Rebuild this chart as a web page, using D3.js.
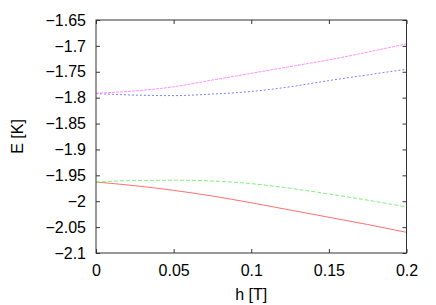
<!DOCTYPE html>
<html>
<head>
<meta charset="utf-8">
<script src="https://cdn.jsdelivr.net/npm/d3@7"></script>
<style>
  body { margin: 0; background: #fff; }
  svg text { font-family: "Liberation Sans", Arial, sans-serif; fill: #000; }
</style>
</head>
<body>
<svg id="chart" width="436" height="305"></svg>
<script>
//
// Data
//

var h = [0, 0.025, 0.05, 0.075, 0.1, 0.125, 0.15, 0.175, 0.2]
var eRed = [-1.963, -1.970, -1.979, -1.990, -2.003, -2.017, -2.031, -2.045, -2.060]
var eGreen = [-1.963, -1.960, -1.9595, -1.961, -1.966, -1.975, -1.986, -1.998, -2.011]
var eBlue = [-1.792, -1.795, -1.796, -1.793, -1.788, -1.779, -1.767, -1.756, -1.745]
var eMagenta = [-1.7915, -1.787, -1.779, -1.766, -1.753, -1.740, -1.727, -1.712, -1.696]

var xTicks = [0, 0.05, 0.1, 0.15, 0.2]
var yTicks = [-1.65, -1.7, -1.75, -1.8, -1.85, -1.9, -1.95, -2, -2.05, -2.1]

//
// Layout
//

var plotLeft = 96, plotRight = 406.5, plotTop = 20, plotBottom = 253
var tickLen = 4

var svg = d3.select('#chart')

var x = d3.scaleLinear().domain([0, 0.2]).range([plotLeft, plotRight])
var y = d3.scaleLinear().domain([-2.1, -1.65]).range([plotBottom, plotTop])

// ticks on all four sides, pointing inward
var axisB = d3.axisBottom(x).tickValues(xTicks).tickSizeInner(-tickLen).tickSizeOuter(0).tickPadding(12).tickFormat(d3.format('~g'))
var axisT = d3.axisTop(x).tickValues(xTicks).tickSizeInner(-tickLen).tickSizeOuter(0).tickFormat('')
var axisL = d3.axisLeft(y).tickValues(yTicks).tickSizeInner(-tickLen).tickSizeOuter(0).tickPadding(10).tickFormat(d3.format('~g'))
var axisR = d3.axisRight(y).tickValues(yTicks).tickSizeInner(-tickLen).tickSizeOuter(0).tickFormat('')

function styleAxis(g) {
  g.select('.domain').remove()
  g.selectAll('.tick line').attr('stroke', '#333')
  g.selectAll('.tick text').attr('font-size', 16).attr('font-family', '"Liberation Sans", Arial, sans-serif')
}

svg.append('g').attr('transform', 'translate(0,' + plotBottom + ')').call(axisB).call(styleAxis)
svg.append('g').attr('transform', 'translate(0,' + plotTop + ')').call(axisT).call(styleAxis)
svg.append('g').attr('transform', 'translate(' + plotLeft + ',0)').call(axisL).call(styleAxis)
svg.append('g').attr('transform', 'translate(' + plotRight + ',0)').call(axisR).call(styleAxis)

//
// Curves
//

var series = [
  { values: eRed, color: '#ff7070', dash: null },
  { values: eGreen, color: '#80f080', dash: '4,2' },
  { values: eBlue, color: '#8080ff', dash: '2,2' },
  { values: eMagenta, color: '#ff90ff', dash: '3,1' }
]

var line = d3.line()
  .x(function(d) { return x(d[0]) })
  .y(function(d) { return y(d[1]) })
  .curve(d3.curveMonotoneX)

series.forEach(function(s) {
  svg.append('path')
    .datum(h.map(function(v, i) { return [v, s.values[i]] }))
    .attr('fill', 'none')
    .attr('stroke', s.color)
    .attr('stroke-width', 1)
    .attr('stroke-dasharray', s.dash)
    .attr('d', line)
})

// frame
svg.append('rect')
  .attr('x', plotLeft).attr('y', plotTop)
  .attr('width', plotRight - plotLeft).attr('height', plotBottom - plotTop)
  .attr('fill', 'none')
  .attr('stroke', '#333')
  .attr('stroke-width', 1)

//
// Labels
//

svg.append('text')
  .attr('x', (plotLeft + plotRight) / 2).attr('y', 300)
  .attr('text-anchor', 'middle')
  .attr('font-size', 16)
  .text('h [T]')

svg.append('text')
  .attr('transform', 'translate(23,' + (plotTop + plotBottom) / 2 + ') rotate(-90)')
  .attr('text-anchor', 'middle')
  .attr('font-size', 16)
  .text('E [K]')
</script>
</body>
</html>
